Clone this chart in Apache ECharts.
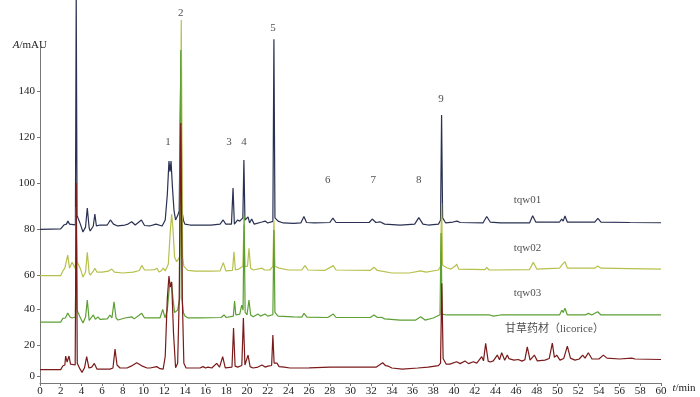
<!DOCTYPE html>
<html lang="zh">
<head>
  <meta charset="UTF-8">
  <title>HPLC 色谱图</title>
  <script src="https://cdn.jsdelivr.net/npm/echarts@6/dist/echarts.min.js"></script>
  <style>
    html, body { margin: 0; padding: 0; background: #fff; }
    #main { width: 700px; height: 397px; }
  </style>
</head>
<body>
  <div id="main"></div>
  <script>
    // y 轴刻度：原图刻度不等距，按图上位置给出
    var yTickPos = [16.4, 29.9, 45.4, 60, 80, 100, 120, 140]
    var yTickText = ['0', '20', '40', '60', '80', '100', '120', '140']

    // 每条色谱线 [t/min, 响应]
    var tqw01 = [
      [0, 80], [2.0, 80.2], [2.3, 81.9], [2.55, 82.3], [2.7, 83.6], [2.85, 82.3], [3.42, 82], [3.5, 182],
      [3.58, 86], [3.7, 85.4], [3.9, 82.3], [4.15, 78.9], [4.4, 81], [4.57, 89.3], [4.75, 80.6], [4.85, 79.3],
      [5.15, 81.5], [5.3, 86.7], [5.45, 81.5], [5.8, 81.9], [6.5, 81.9], [6.8, 84.1], [7.1, 82.3], [7.5, 81.5],
      [8.2, 81.9], [8.5, 82.3], [8.86, 83.3], [9.2, 81.9], [9.8, 84.1], [10.1, 81.7], [10.6, 81.5], [11.2, 82.3],
      [11.8, 81.5], [12.1, 84.1], [12.3, 95], [12.46, 109.6], [12.56, 105], [12.66, 109.6], [12.8, 98],
      [12.95, 88], [13.1, 84.1], [13.3, 86], [13.45, 88], [13.6, 150], [13.72, 88], [13.85, 84], [14.0, 82.3],
      [14.5, 81.9], [15.5, 81.9], [16.5, 81.9], [17.4, 82.3], [17.7, 84.1], [17.95, 82.3], [18.5, 82.3],
      [18.65, 97.9], [18.78, 82.3], [19.1, 84.1], [19.3, 83.6], [19.6, 85], [19.7, 110.1], [19.8, 84],
      [19.95, 83.6], [20.1, 85.4], [20.25, 82.8], [20.45, 84.5], [20.7, 82.3], [21.45, 83.2], [21.75, 83.6],
      [22.0, 82.8], [22.5, 83.5], [22.6, 162.5], [22.7, 85], [22.85, 84.2], [23.0, 83.6], [23.5, 82.8],
      [24.5, 82.6], [25.2, 82.8], [25.5, 85.6], [25.75, 83.0], [26.5, 82.8], [28.0, 83.0], [28.3, 84.9],
      [28.6, 83.0], [30, 83.0], [31.8, 83.0], [32.1, 84.5], [32.45, 83.0], [32.85, 83.3], [33.3, 82.3],
      [34.8, 81.9], [36.2, 82.3], [36.6, 85.1], [37.0, 82.3], [37.5, 81.9], [38.5, 82.3], [38.7, 84],
      [38.8, 129.6], [38.9, 85], [39.2, 82.8], [39.9, 83.2], [40.3, 83.6], [40.6, 83.0], [42.8, 82.8],
      [43.16, 85.6], [43.5, 83.2], [44.5, 82.8], [47.3, 82.8], [47.6, 85.9], [47.9, 83.2], [50.2, 83.2],
      [50.4, 84.5], [50.55, 83.6], [50.72, 85.8], [50.95, 83.2], [53.6, 83.2], [53.9, 84.8], [54.2, 83.2],
      [57, 83.0], [60, 82.9]
    ]
    var tqw02 = [
      [0, 60], [2.0, 60], [2.2, 61.9], [2.4, 63.2], [2.68, 68.9], [2.85, 63.2], [3.1, 65.8], [3.42, 63],
      [3.5, 89.7], [3.58, 66], [3.9, 63], [4.15, 59.3], [4.4, 61.5], [4.57, 70.1], [4.75, 61.1], [4.85, 60.2],
      [5.15, 61.9], [5.3, 63.2], [5.5, 61.5], [6.0, 61.5], [6.6, 61.9], [6.93, 62.8], [7.2, 61.5], [8.0, 61.1],
      [9.0, 61.5], [9.6, 62.2], [9.83, 64.4], [10.1, 62.4], [10.6, 62.4], [11.1, 62.6], [11.3, 63.2],
      [11.5, 61.5], [11.7, 62], [11.91, 63.2], [12.1, 62], [12.4, 65], [12.6, 80], [12.72, 86.7], [12.85, 80],
      [13.0, 68], [13.2, 66], [13.5, 68], [13.65, 170.8], [13.78, 68], [13.9, 64], [14.1, 63], [14.3, 62.2],
      [15, 61.9], [16.5, 61.9], [17.4, 62.0], [17.71, 65.6], [17.95, 62.0], [18.6, 62.2], [18.74, 70.3],
      [18.88, 62.4], [19.2, 62.8], [19.6, 64], [19.7, 82], [19.8, 64], [20.05, 64], [20.19, 71.8],
      [20.35, 63.2], [20.6, 62.4], [21.45, 63.2], [21.7, 62.4], [22.2, 62.4], [22.5, 64], [22.6, 84.1],
      [22.7, 64], [23.1, 63.2], [24, 62.4], [25.3, 62.4], [25.6, 64.3], [25.9, 62.4], [27.5, 62.2],
      [28.34, 64.3], [28.6, 62.4], [31.9, 62.2], [32.27, 63.6], [32.6, 62.2], [34, 61.1], [35.7, 61.1],
      [36.78, 62], [37.3, 61.5], [38.5, 62.4], [38.7, 64], [38.8, 91.4], [38.9, 64.5], [39.3, 63.4],
      [39.42, 63.7], [39.7, 62.8], [40.1, 64], [40.26, 64.9], [40.45, 62.8], [43.0, 62.6], [43.16, 63.5],
      [43.4, 62.4], [43.8, 62.4], [47.3, 62.6], [47.66, 65.7], [48.0, 62.8], [50.2, 63.2], [50.41, 64.5],
      [50.55, 64], [50.72, 66.0], [50.95, 63.2], [53.6, 63.2], [53.88, 64.1], [54.2, 63.2], [57, 63.0],
      [60, 62.8]
    ]
    var tqw03 = [
      [0, 39.8], [2.0, 39.8], [2.2, 41.4], [2.45, 41.6], [2.68, 43.7], [2.9, 42.0], [3.1, 41.6], [3.42, 42],
      [3.5, 88.4], [3.58, 45], [3.86, 42.1], [4.15, 39.4], [4.4, 42], [4.57, 49.4], [4.75, 40.5], [4.85, 40.2],
      [5.15, 42.9], [5.35, 41.0], [5.6, 42.1], [5.8, 41.0], [6.5, 41.2], [6.76, 42.9], [6.95, 41.6],
      [7.15, 48.6], [7.35, 41.6], [7.54, 40.7], [8.2, 41.6], [8.86, 42.1], [9.1, 41.2], [9.83, 43.6],
      [10.1, 41.6], [10.6, 41.6], [11.59, 41.6], [11.86, 45.3], [12.08, 41.6], [12.3, 45], [12.5, 55],
      [12.7, 57.2], [12.85, 50], [13.0, 44], [13.3, 45], [13.5, 50], [13.6, 157.8], [13.72, 50], [13.85, 44],
      [14.0, 42.5], [14.3, 41.6], [15.5, 41.6], [17.5, 41.8], [17.78, 42.9], [18.0, 41.8], [18.68, 42.4],
      [18.8, 48.9], [18.92, 42.9], [19.3, 43.3], [19.49, 47.2], [19.62, 45], [19.72, 86.2], [19.82, 44],
      [20.0, 42.9], [20.19, 49.4], [20.35, 42.9], [20.6, 42.1], [21.06, 43.3], [21.3, 42.4], [21.74, 43.3],
      [22.0, 42.4], [22.5, 43], [22.6, 79.7], [22.7, 44], [23.0, 42.4], [24.5, 42.1], [25.3, 42.0],
      [25.51, 43.6], [25.8, 42.0], [27.8, 41.8], [28.34, 43.3], [28.6, 41.8], [31.9, 41.8], [32.27, 42.9],
      [32.6, 41.8], [33.01, 41.9], [33.3, 41.2], [34.8, 40.7], [36.3, 40.7], [36.78, 42.1], [37.2, 40.7],
      [38.0, 41.6], [38.65, 43], [38.75, 78.4], [38.85, 43.3], [39.3, 42.9], [43.0, 42.9], [43.18, 43.2],
      [43.45, 42.9], [43.8, 42.4], [44.5, 42.9], [50.2, 42.9], [50.41, 45.0], [50.55, 44], [50.72, 45.8],
      [50.95, 42.9], [52.7, 42.9], [52.98, 43.6], [53.3, 42.9], [53.88, 44.3], [54.2, 42.9], [57, 42.9],
      [60, 42.9]
    ]
    var licorice = [
      [0, 19.2], [2.0, 19.2], [2.2, 20.8], [2.4, 21.2], [2.48, 25.1], [2.62, 22.5], [2.8, 25.1], [2.95, 21.6],
      [3.4, 21.2], [3.5, 100.1], [3.6, 22], [3.86, 19.5], [4.06, 18.0], [4.3, 20], [4.51, 24.8], [4.73, 19.9],
      [5.0, 20.3], [5.25, 21.9], [5.51, 19.4], [6.0, 19.4], [6.76, 19.4], [7.05, 19.9], [7.25, 28.1],
      [7.44, 21.2], [7.73, 19.9], [8.41, 19.9], [8.8, 20.7], [9.35, 22.2], [9.9, 20.7], [10.34, 19.9],
      [10.63, 19.9], [11.28, 20.5], [11.6, 19.6], [11.9, 19.4], [12.1, 25], [12.3, 50], [12.46, 59.8],
      [12.58, 55], [12.72, 57.2], [12.9, 35], [13.1, 20], [13.3, 22], [13.45, 50], [13.6, 126.1], [13.75, 50],
      [13.9, 22], [14.1, 20], [14.5, 19.9], [15.46, 19.9], [15.75, 20.5], [16.0, 19.9], [16.23, 20.3],
      [16.6, 19.9], [17.07, 21.9], [17.35, 20.3], [17.65, 24.8], [17.9, 20], [18.55, 20.3], [18.7, 37.2],
      [18.85, 20.7], [19.1, 20.3], [19.5, 21], [19.65, 41.6], [19.8, 21.2], [20.1, 25.5], [20.3, 20.5],
      [20.58, 19.9], [21.06, 20.3], [21.45, 21.2], [21.75, 20.3], [22.03, 20.7], [22.38, 21], [22.5, 34.2],
      [22.62, 22], [22.9, 22.0], [23.1, 20.5], [23.29, 21.2], [23.6, 20.3], [24.15, 19.9], [26, 20], [28, 20.3],
      [30, 20.3], [32.5, 20.3], [33.11, 22.2], [33.4, 20.9], [33.65, 20.7], [34.0, 19.9], [35.0, 19.4],
      [36.5, 19.9], [37.5, 20.3], [38.5, 20.9], [38.7, 22], [38.82, 56.7], [38.95, 24], [39.23, 21.6],
      [39.6, 21.6], [40.26, 22.6], [40.6, 21.8], [41.06, 22.9], [41.4, 21.8], [41.87, 22.6], [42.2, 22],
      [42.68, 24.8], [42.85, 23], [43.06, 30.6], [43.3, 22.9], [43.5, 22.5], [43.8, 23], [44.18, 25.5],
      [44.4, 23.5], [44.61, 26.5], [44.9, 23.3], [45.15, 25.5], [45.3, 24], [45.48, 24.8], [45.8, 23.3],
      [46.21, 23.6], [46.57, 22.9], [46.85, 23.5], [47.08, 29.1], [47.35, 23.3], [47.76, 25.5], [48.05, 23],
      [48.79, 23.3], [49.2, 24], [49.5, 30.7], [49.7, 24.5], [49.92, 25.5], [50.24, 23.3], [50.6, 24],
      [50.95, 29.4], [51.25, 24.2], [51.69, 23.3], [52.1, 23.8], [52.43, 25.5], [52.66, 24.2], [52.98, 26.5],
      [53.33, 23.8], [54.0, 23.8], [54.43, 25.5], [54.78, 24.2], [56.0, 23.8], [57.17, 24.2], [57.5, 23.8],
      [60, 23.6]
    ]

    // 峰号标注
    var peakNames = ['1', '2', '3', '4', '5', '6', '7', '8', '9']
    var peakT = [12.37, 13.6, 18.26, 19.7, 22.5, 27.8, 32.2, 36.6, 38.75]
    var peakU = [117.9, 173.8, 117.9, 117.9, 167.3, 101.4, 101.4, 101.4, 136.5]

    // 样品名标注
    var traceNames = ['tqw01', 'tqw02', 'tqw03', '甘草药材（licorice）']
    var traceT = [47.1, 47.1, 47.1, 49.7]
    var traceU = [92.7, 71.9, 52.4, 36.8]

    var serif = '"Liberation Serif", "DejaVu Serif", serif'
    var colors = ['#2a3152', '#b7c04c', '#5c9f33', '#7a1a1a']

    var chart = echarts.init(document.getElementById('main'))

    function line(name, data, color) {
      return {
        name: name,
        type: 'line',
        data: data,
        symbol: 'none',
        clip: false,
        lineStyle: { color: color, width: 1.2 },
        animation: false
      }
    }

    function labelData(names, ts, us) {
      var arr = []
      for (var i = 0; i < names.length; i++) {
        arr.push({ value: [ts[i], us[i]], name: names[i] })
      }
      return arr
    }

    var option = {
      animation: false,
      grid: { left: 40, right: 39, top: 47, bottom: 14 },
      xAxis: {
        type: 'value',
        min: 0,
        max: 60,
        interval: 2,
        name: '{i|t}/min',
        nameLocation: 'end',
        nameGap: 6,
        nameTextStyle: {
          fontFamily: serif, fontSize: 11, color: '#222', verticalAlign: 'top',
          rich: { i: { fontStyle: 'italic', fontFamily: serif, fontSize: 11, color: '#222' } }
        },
        axisLine: { lineStyle: { color: '#777' } },
        axisTick: { length: 3, lineStyle: { color: '#777' } },
        axisLabel: { fontFamily: serif, fontSize: 11, color: '#222', margin: 3 },
        splitLine: { show: false }
      },
      yAxis: {
        type: 'value',
        min: 13.4,
        max: 159.1,
        name: '{i|A}/mAU',
        nameLocation: 'end',
        nameGap: 2,
        nameTextStyle: {
          fontFamily: serif, fontSize: 11, color: '#222', align: 'right', verticalAlign: 'middle',
          padding: [0, -7, 0, 0],
          rich: { i: { fontStyle: 'italic', fontFamily: serif, fontSize: 11, color: '#222' } }
        },
        axisLine: { show: true, lineStyle: { color: '#777' } },
        axisTick: { show: true, length: 3, customValues: yTickPos, lineStyle: { color: '#777' } },
        axisLabel: {
          fontFamily: serif, fontSize: 11, color: '#222', margin: 5,
          customValues: yTickPos,
          formatter: function (v) {
            var best = 0
            for (var i = 1; i < yTickPos.length; i++) {
              if (Math.abs(yTickPos[i] - v) < Math.abs(yTickPos[best] - v)) best = i
            }
            return yTickText[best]
          }
        },
        splitLine: { show: false }
      },
      series: [
        line('tqw01', tqw01, colors[0]),
        line('tqw02', tqw02, colors[1]),
        line('tqw03', tqw03, colors[2]),
        line('甘草药材', licorice, colors[3]),
        {
          type: 'scatter',
          symbolSize: 0,
          clip: false,
          silent: true,
          data: labelData(peakNames, peakT, peakU),
          label: {
            show: true, position: 'inside', formatter: '{b}',
            fontFamily: serif, fontSize: 11, color: '#222'
          }
        },
        {
          type: 'scatter',
          symbolSize: 0,
          clip: false,
          silent: true,
          data: labelData(traceNames, traceT, traceU),
          label: {
            show: true, position: 'inside', formatter: '{b}',
            fontFamily: '"Liberation Serif", "Noto Sans CJK SC", serif', fontSize: 11, color: '#222'
          }
        }
      ]
    }
    chart.setOption(option)
    window.onresize = function () {
      chart.resize()
    }
  </script>
</body>
</html>
